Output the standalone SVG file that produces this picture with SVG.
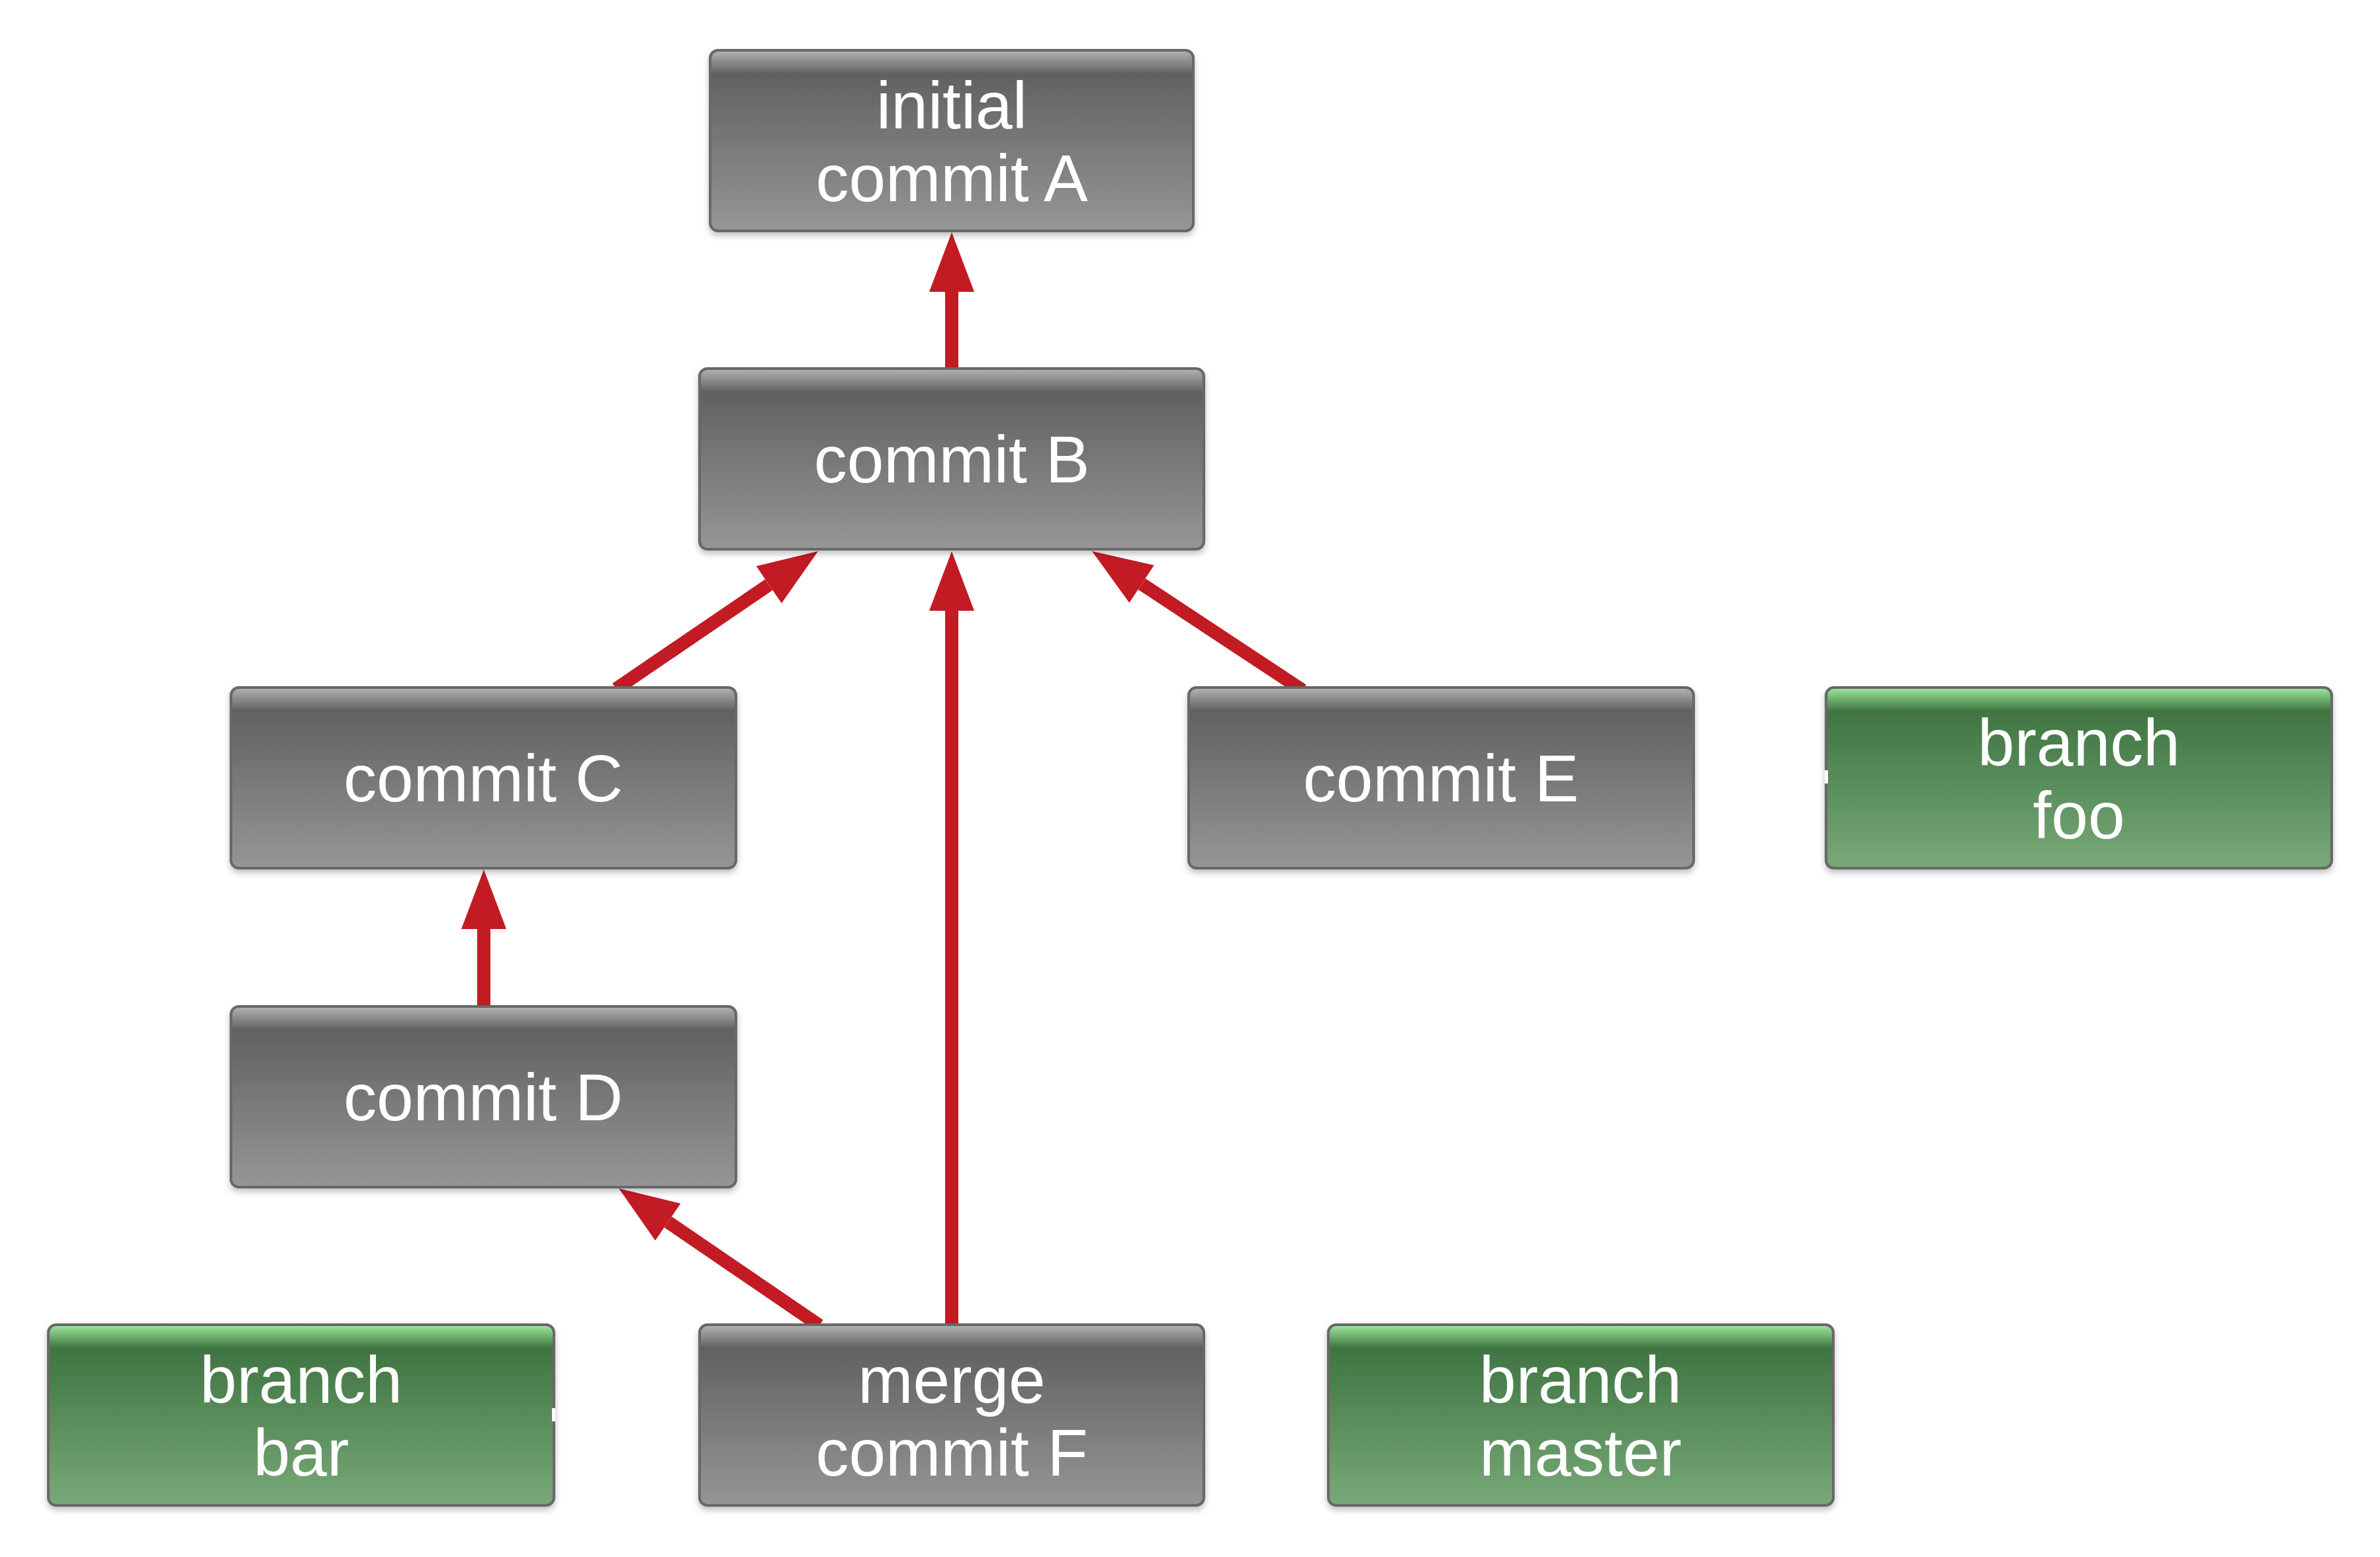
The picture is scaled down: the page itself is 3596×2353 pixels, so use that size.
<svg xmlns="http://www.w3.org/2000/svg" width="3596" height="2353" viewBox="0 0 3596 2353">
<style>
.box{stroke:#686868;stroke-width:4;filter:url(#sh)}
.gray{fill:url(#gg)}
.green{fill:url(#gr)}
.lbl{font-family:"Liberation Sans",Arial,Helvetica,sans-serif;font-size:100px;fill:#ffffff;text-anchor:middle}
.edge{stroke:#c21b24;stroke-width:20;fill:none;marker-end:url(#ah)}
</style>
<defs>
<linearGradient id="gg" x1="0" y1="0" x2="0" y2="1">
<stop offset="0" stop-color="#b4b4b4"/>
<stop offset="0.04" stop-color="#9a9a9a"/>
<stop offset="0.13" stop-color="#616161"/>
<stop offset="1" stop-color="#969696"/>
</linearGradient>
<linearGradient id="gr" x1="0" y1="0" x2="0" y2="1">
<stop offset="0" stop-color="#a0eaa0"/>
<stop offset="0.04" stop-color="#7fc680"/>
<stop offset="0.13" stop-color="#3f7542"/>
<stop offset="1" stop-color="#79a979"/>
</linearGradient>
<filter id="sh" x="-5%" y="-5%" width="110%" height="120%">
<feDropShadow dx="0" dy="5" stdDeviation="5" flood-color="#000" flood-opacity="0.25"/>
</filter>
<marker id="ah" markerUnits="userSpaceOnUse" markerWidth="92" markerHeight="70" refX="0" refY="34" orient="auto" viewBox="0 0 92 70">
<path d="M0,0 L90,34 L0,68 Z" fill="#c21b24"/>
</marker>
</defs>

<g id="connectors">
<line class="edge" x1="1438" y1="557" x2="1438" y2="441"/>
<line class="edge" x1="1438" y1="2002" x2="1438" y2="923"/>
<line class="edge" x1="731" y1="1521" x2="731" y2="1404"/>
<line class="edge" x1="931" y1="1041" x2="1161.7" y2="883.7"/>
<line class="edge" x1="1968" y1="1043" x2="1725.1" y2="882.6"/>
<line class="edge" x1="1238" y1="2003" x2="1009.3" y2="1846.8"/>
</g>

<g id="commitA">
<rect class="box gray" x="1073" y="76" width="730" height="273" rx="12"/>
<text class="lbl" x="1438" y="194">initial</text>
<text class="lbl" x="1438" y="304">commit A</text>
</g>
<g id="commitB">
<rect class="box gray" x="1057" y="557" width="762" height="273" rx="12"/>
<text class="lbl" x="1438" y="729">commit B</text>
</g>
<g id="commitC">
<rect class="box gray" x="349" y="1039" width="763" height="273" rx="12"/>
<text class="lbl" x="730" y="1211">commit C</text>
</g>
<g id="commitE">
<rect class="box gray" x="1796" y="1039" width="763" height="273" rx="12"/>
<text class="lbl" x="2177" y="1211">commit E</text>
</g>
<g id="branchFoo">
<rect class="box green" x="2759" y="1039" width="764" height="273" rx="12"/>
<rect x="2757" y="1164" width="5" height="20" fill="#ffffff"/>
<text class="lbl" x="3141" y="1157">branch</text>
<text class="lbl" x="3141" y="1267">foo</text>
</g>
<g id="commitD">
<rect class="box gray" x="349" y="1521" width="763" height="273" rx="12"/>
<text class="lbl" x="730" y="1693">commit D</text>
</g>
<g id="branchBar">
<rect class="box green" x="73" y="2002" width="764" height="273" rx="12"/>
<rect x="834" y="2128" width="5" height="20" fill="#ffffff"/>
<text class="lbl" x="455" y="2120">branch</text>
<text class="lbl" x="455" y="2230">bar</text>
</g>
<g id="mergeF">
<rect class="box gray" x="1057" y="2002" width="762" height="273" rx="12"/>
<text class="lbl" x="1438" y="2120">merge</text>
<text class="lbl" x="1438" y="2230">commit F</text>
</g>
<g id="branchMaster">
<rect class="box green" x="2007" y="2002" width="763" height="273" rx="12"/>
<text class="lbl" x="2388" y="2120">branch</text>
<text class="lbl" x="2388" y="2230">master</text>
</g>
</svg>
